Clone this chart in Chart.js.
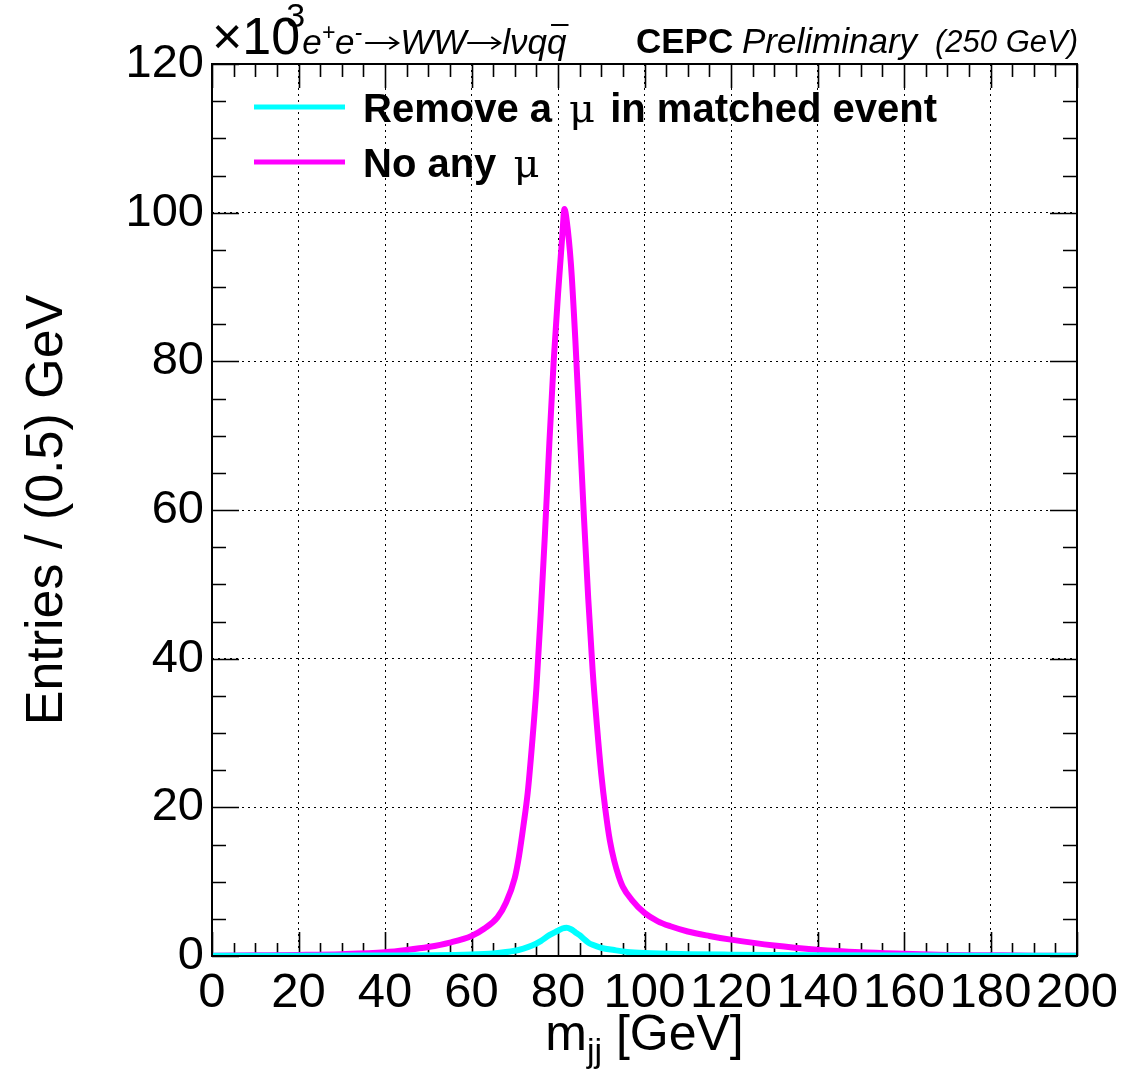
<!DOCTYPE html>
<html><head><meta charset="utf-8">
<script src="https://cdn.jsdelivr.net/npm/chart.js@4.4.1/dist/chart.umd.min.js"></script>
<style>html,body{margin:0;padding:0;background:#fff;}#wrap{width:1148px;height:1072px;}</style>
</head><body><div id="wrap"><canvas id="c" width="1148" height="1072"></canvas></div>
<script>
// ---- data (values in units of 10^3 entries per 0.5 GeV) ----
const noMuMass = [0,10,20,30,40,45,50,55,60,63,66,68,70,71,72,73,74,75,76,77,78,79,80,81,81.5,82,83,84,85,86,87,88,89,90,91,92,93,94,95,97,100,103,106,110,115,120,130,140,150,160,170,180,190,200];
const noMuValues = [0.05,0.1,0.15,0.25,0.5,0.8,1.2,1.8,2.7,3.7,5.2,7.2,10.5,13.5,17.5,22,28.5,36,46,57,69,80,89,97,100.5,99,93,83,71,59,48,38.5,31,24.5,19.5,15.5,12.8,10.8,9.3,7.6,5.8,4.7,4.0,3.3,2.7,2.2,1.4,0.85,0.5,0.3,0.15,0.1,0.05,0.02];
const removeMuMass = [0,20,40,50,60,65,70,72,74,76,78,80,81,82,83,84,85,86,87,88,90,93,96,100,110,120,140,160,180,200];
const removeMuValues = [0.05,0.05,0.08,0.1,0.2,0.35,0.7,1.0,1.4,2.0,2.8,3.4,3.7,3.8,3.6,3.2,2.8,2.3,1.8,1.5,1.1,0.8,0.55,0.4,0.25,0.18,0.1,0.06,0.04,0.03];
const seriesLabels = ['Remove a μ in matched event', 'No any μ'];
const xTickValues = [0,20,40,60,80,100,120,140,160,180,200];
const yTickValues = [0,20,40,60,80,100,120];

const FONT = '"Liberation Sans", Arial, Helvetica, sans-serif';
const SERIF = '"DejaVu Serif", "Liberation Serif", serif';

function pts(xs, ys){ return xs.map((x,i)=>({x:x, y:ys[i]})); }

const rootStyle = {
  id: 'rootStyle',
  beforeDatasetsDraw(chart){
    const {ctx, chartArea:a, scales:{x,y}} = chart;
    ctx.save();
    ctx.strokeStyle = '#000'; ctx.lineWidth = 1.6;
    ctx.beginPath();
    for (let v = x.min; v <= x.max + 1e-9; v += 5){
      const px = Math.round(x.getPixelForValue(v)) + 0.5;
      const L = (Math.abs(v % 20) < 1e-9) ? 24 : 13;
      ctx.moveTo(px, a.bottom); ctx.lineTo(px, a.bottom - L);
      ctx.moveTo(px, a.top); ctx.lineTo(px, a.top + L);
    }
    for (let v = y.min; v <= y.max + 1e-9; v += 5){
      const py = Math.round(y.getPixelForValue(v)) + 0.5;
      const L = (Math.abs(v % 20) < 1e-9) ? 27 : 14;
      ctx.moveTo(a.left, py); ctx.lineTo(a.left + L, py);
      ctx.moveTo(a.right, py); ctx.lineTo(a.right - L, py);
    }
    ctx.stroke();
    ctx.restore();
  },
  afterDatasetsDraw(chart){
    const {ctx, chartArea:a} = chart;
    ctx.save();
    ctx.strokeStyle = '#000'; ctx.lineWidth = 2;
    ctx.strokeRect(a.left, a.top, a.right - a.left, a.bottom - a.top);
    ctx.restore();
  },
  afterDraw(chart){
    const {ctx, chartArea:a} = chart;
    ctx.save();
    ctx.fillStyle = '#000';
    ctx.textBaseline = 'alphabetic';
    ctx.textAlign = 'left';
    // legend
    const legY = [107, 162];
    chart.data.datasets.forEach((ds, i) => {
      const yy = legY[i];
      ctx.strokeStyle = ds.borderColor; ctx.lineWidth = 5;
      ctx.beginPath(); ctx.moveTo(254, yy); ctx.lineTo(345, yy); ctx.stroke();
      const parts = ds.label.split('μ');
      let xx = 363; const base = yy + 15;
      parts.forEach((p, k) => {
        ctx.font = 'bold 40px ' + FONT;
        ctx.fillText(p, xx, base); xx += ctx.measureText(p).width;
        if (k < parts.length - 1){
          xx += 6;
          ctx.font = '40px ' + SERIF;
          ctx.fillText('μ', xx, base); xx += ctx.measureText('μ').width + 4;
        }
      });
    });
    // x-axis title with subscript
    const cx = (a.left + a.right) / 2, by = 1050;
    ctx.font = '50px ' + FONT; const wm = ctx.measureText('m').width;
    ctx.font = '34px ' + FONT; const wj = ctx.measureText('jj').width;
    ctx.font = '50px ' + FONT; const wr = ctx.measureText(' [GeV]').width;
    let sx = cx - (wm + wj + wr) / 2;
    ctx.font = '50px ' + FONT; ctx.fillText('m', sx, by); sx += wm;
    ctx.font = '34px ' + FONT; ctx.fillText('jj', sx, by + 12); sx += wj;
    ctx.font = '50px ' + FONT; ctx.fillText(' [GeV]', sx, by);
    // top annotations
    let tx = 212; const ty = 54;
    ctx.font = '52px ' + FONT; ctx.fillText('×10', tx, ty); tx += ctx.measureText('×10').width;
    ctx.font = '34px ' + FONT; ctx.fillText('3', tx - 14, 27);
    tx += 2;
    const it = 'italic 35px ' + FONT, sup = 'italic 23px ' + FONT, arr = '36px ' + FONT;
    const seg = (t, f, dy) => { ctx.font = f; ctx.fillText(t, tx, ty + (dy||0)); tx += ctx.measureText(t).width; };
    const arrow = () => {
      const w = 34, yA = ty - 11;
      ctx.lineWidth = 2; ctx.strokeStyle = '#000';
      ctx.beginPath(); ctx.moveTo(tx + 1, yA); ctx.lineTo(tx + w - 1, yA); ctx.stroke();
      ctx.beginPath(); ctx.moveTo(tx + w - 9, yA - 6); ctx.lineTo(tx + w, yA); ctx.lineTo(tx + w - 9, yA + 6); ctx.stroke();
      tx += w + 2;
    };
    seg('e', it); seg('+', sup, -14); seg('e', it); seg('-', sup, -14);
    tx += 2; arrow(); seg('WW', it); arrow(); seg('lνq', it);
    const qx = tx; seg('q', it);
    ctx.lineWidth = 2; ctx.strokeStyle = '#000';
    ctx.beginPath(); ctx.moveTo(qx + 4, ty - 29); ctx.lineTo(tx + 2, ty - 29); ctx.stroke();
    ctx.font = 'bold 35px ' + FONT; ctx.fillText('CEPC', 636, 53);
    ctx.font = 'italic 35px ' + FONT; ctx.fillText('Preliminary', 742, 53);
    ctx.font = 'italic 31px ' + FONT; ctx.fillText('(250 GeV)', 935, 52);
    ctx.restore();
  }
};

new Chart(document.getElementById('c'), {
  type: 'line',
  data: {
    datasets: [
      { label: seriesLabels[0], data: pts(removeMuMass, removeMuValues), borderColor: '#00ffff', backgroundColor: '#00ffff', borderWidth: 6, pointRadius: 0, fill: false, cubicInterpolationMode: 'monotone' },
      { label: seriesLabels[1], data: pts(noMuMass, noMuValues), borderColor: '#ff00ff', backgroundColor: '#ff00ff', borderWidth: 6, pointRadius: 0, fill: false, cubicInterpolationMode: 'monotone' }
    ]
  },
  options: {
    responsive: false, animation: false, devicePixelRatio: 1,
    layout: { padding: { left: 0, top: 64, right: 71, bottom: 0 } },
    plugins: { legend: { display: false }, tooltip: { enabled: false } },
    scales: {
      x: {
        type: 'linear', min: 0, max: 200,
        afterFit: s => { s.height = 116; },
        afterBuildTicks: s => { s.ticks = xTickValues.map(v => ({value: v})); },
        ticks: { autoSkip: false, maxRotation: 0, color: '#000', padding: 8, font: { family: FONT, size: 49 } },
        grid: { color: '#000', lineWidth: 1, drawTicks: false },
        border: { display: false, dash: [2, 4] }
      },
      y: {
        type: 'linear', min: 0, max: 120,
        afterFit: s => { s.width = 212; },
        afterBuildTicks: s => { s.ticks = yTickValues.map(v => ({value: v})); },
        ticks: { color: '#000', padding: 8, font: { family: FONT, size: 47 } },
        grid: { color: '#000', lineWidth: 1, drawTicks: false },
        border: { display: false, dash: [2, 4] },
        title: { display: true, text: 'Entries / (0.5) GeV', color: '#000', font: { family: FONT, size: 52 }, padding: { top: 16, bottom: 0 } }
      }
    }
  },
  plugins: [rootStyle]
});
</script></body></html>
